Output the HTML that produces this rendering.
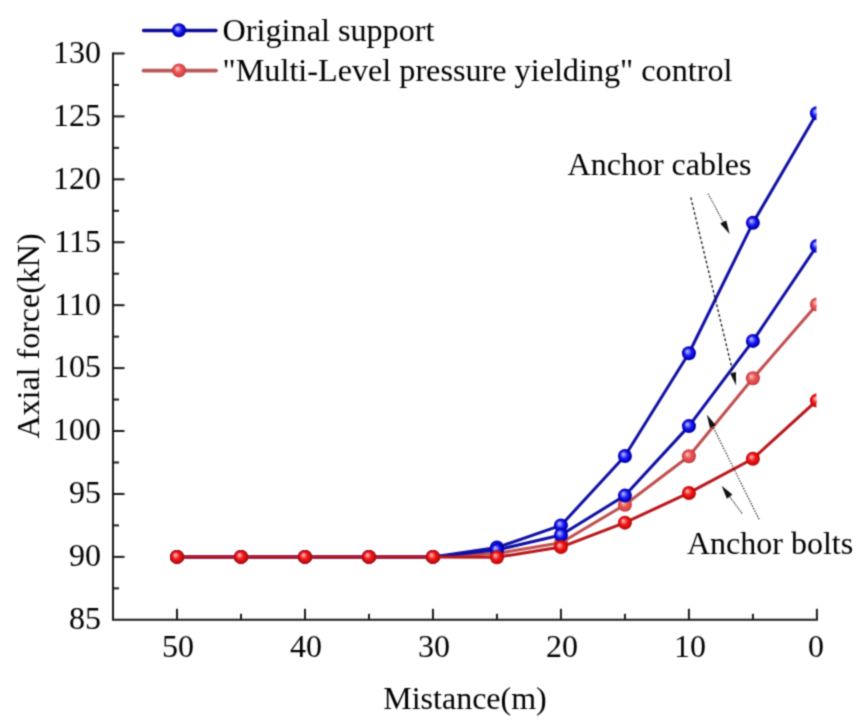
<!DOCTYPE html>
<html><head><meta charset="utf-8"><style>
html,body{margin:0;padding:0;background:#fff;}
svg{display:block;}
text{font-family:"Liberation Serif",serif;font-size:32px;fill:#000;}
</style></head><body>
<svg width="864" height="726" viewBox="0 0 864 726">
<defs>
<filter id="soft" x="0" y="0" width="864" height="726" filterUnits="userSpaceOnUse" color-interpolation-filters="sRGB"><feConvolveMatrix order="3" kernelMatrix="1 3 1 3 9 3 1 3 1" divisor="25" edgeMode="duplicate"/></filter>
<radialGradient id="gb" cx="0.5" cy="0.5" r="0.5" fx="0.36" fy="0.34">
<stop offset="0" stop-color="#c4c4ff"/><stop offset="0.22" stop-color="#8888ff"/><stop offset="0.5" stop-color="#2222f4"/><stop offset="0.82" stop-color="#0000cc"/><stop offset="1" stop-color="#00008c"/></radialGradient>
<radialGradient id="gr1" cx="0.5" cy="0.5" r="0.5" fx="0.36" fy="0.34">
<stop offset="0" stop-color="#ffd4d4"/><stop offset="0.22" stop-color="#f49a9a"/><stop offset="0.5" stop-color="#e85858"/><stop offset="0.82" stop-color="#dc4444"/><stop offset="1" stop-color="#b03838"/></radialGradient>
<radialGradient id="gr2" cx="0.5" cy="0.5" r="0.5" fx="0.36" fy="0.34">
<stop offset="0" stop-color="#ffc4c4"/><stop offset="0.22" stop-color="#f88080"/><stop offset="0.5" stop-color="#ec1c1c"/><stop offset="0.82" stop-color="#dc0606"/><stop offset="1" stop-color="#a00c0c"/></radialGradient>
<clipPath id="plot"><rect x="113" y="0" width="703.4" height="620"/></clipPath>
</defs>
<g filter="url(#soft)">
<rect width="864" height="726" fill="#fff"/>

<g stroke="#1a1a1a" stroke-width="2" fill="none">
<path d="M113 52.5 V620.8 M112 619.8 H817.9"/>
<path d="M113 588.34 H119"/>
<path d="M113 556.88 H124.5"/>
<path d="M113 525.41 H119"/>
<path d="M113 493.95 H124.5"/>
<path d="M113 462.49 H119"/>
<path d="M113 431.02 H124.5"/>
<path d="M113 399.56 H119"/>
<path d="M113 368.10 H124.5"/>
<path d="M113 336.64 H119"/>
<path d="M113 305.17 H124.5"/>
<path d="M113 273.71 H119"/>
<path d="M113 242.25 H124.5"/>
<path d="M113 210.79 H119"/>
<path d="M113 179.32 H124.5"/>
<path d="M113 147.86 H119"/>
<path d="M113 116.40 H124.5"/>
<path d="M113 84.94 H119"/>
<path d="M113 53.47 H124.5"/>
<path d="M816.90 619.8 V608.8"/>
<path d="M752.91 619.8 V613.8"/>
<path d="M688.92 619.8 V608.8"/>
<path d="M624.93 619.8 V613.8"/>
<path d="M560.94 619.8 V608.8"/>
<path d="M496.95 619.8 V613.8"/>
<path d="M432.96 619.8 V608.8"/>
<path d="M368.97 619.8 V613.8"/>
<path d="M304.98 619.8 V608.8"/>
<path d="M240.99 619.8 V613.8"/>
<path d="M177.00 619.8 V608.8"/>
</g>
<text x="101" y="629.1" text-anchor="end">85</text>
<text x="101" y="566.2" text-anchor="end">90</text>
<text x="101" y="503.2" text-anchor="end">95</text>
<text x="101" y="440.3" text-anchor="end">100</text>
<text x="101" y="377.4" text-anchor="end">105</text>
<text x="101" y="314.5" text-anchor="end">110</text>
<text x="101" y="251.5" text-anchor="end">115</text>
<text x="101" y="188.6" text-anchor="end">120</text>
<text x="101" y="125.7" text-anchor="end">125</text>
<text x="101" y="62.8" text-anchor="end">130</text>
<text x="815.9" y="657" text-anchor="middle">0</text>
<text x="689.9" y="657" text-anchor="middle">10</text>
<text x="561.9" y="657" text-anchor="middle">20</text>
<text x="434.0" y="657" text-anchor="middle">30</text>
<text x="306.0" y="657" text-anchor="middle">40</text>
<text x="178.0" y="657" text-anchor="middle">50</text>
<text x="465" y="709" text-anchor="middle">Mistance(m)</text>
<text transform="translate(39.2 336) rotate(-90)" text-anchor="middle">Axial force(kN)</text>
<g clip-path="url(#plot)">
<polyline points="177.00,556.88 240.99,556.88 304.98,556.88 368.97,556.88 432.96,556.88 496.95,547.56 560.94,525.41 624.93,456.07 688.92,353.25 752.91,222.87 816.90,113.25" fill="none" stroke="#1010a4" stroke-width="3.0" stroke-linejoin="round"/>
<circle cx="177.00" cy="556.88" r="7" fill="url(#gb)"/>
<circle cx="240.99" cy="556.88" r="7" fill="url(#gb)"/>
<circle cx="304.98" cy="556.88" r="7" fill="url(#gb)"/>
<circle cx="368.97" cy="556.88" r="7" fill="url(#gb)"/>
<circle cx="432.96" cy="556.88" r="7" fill="url(#gb)"/>
<circle cx="496.95" cy="547.56" r="7" fill="url(#gb)"/>
<circle cx="560.94" cy="525.41" r="7" fill="url(#gb)"/>
<circle cx="624.93" cy="456.07" r="7" fill="url(#gb)"/>
<circle cx="688.92" cy="353.25" r="7" fill="url(#gb)"/>
<circle cx="752.91" cy="222.87" r="7" fill="url(#gb)"/>
<circle cx="816.90" cy="113.25" r="7" fill="url(#gb)"/>
<polyline points="177.00,556.88 240.99,556.88 304.98,556.88 368.97,556.88 432.96,556.88 496.95,553.48 560.94,542.78 624.93,504.77 688.92,456.19 752.91,378.29 816.90,304.55" fill="none" stroke="#c05050" stroke-width="3.0" stroke-linejoin="round"/>
<circle cx="177.00" cy="556.88" r="7" fill="url(#gr1)"/>
<circle cx="240.99" cy="556.88" r="7" fill="url(#gr1)"/>
<circle cx="304.98" cy="556.88" r="7" fill="url(#gr1)"/>
<circle cx="368.97" cy="556.88" r="7" fill="url(#gr1)"/>
<circle cx="432.96" cy="556.88" r="7" fill="url(#gr1)"/>
<circle cx="496.95" cy="553.48" r="7" fill="url(#gr1)"/>
<circle cx="560.94" cy="542.78" r="7" fill="url(#gr1)"/>
<circle cx="624.93" cy="504.77" r="7" fill="url(#gr1)"/>
<circle cx="688.92" cy="456.19" r="7" fill="url(#gr1)"/>
<circle cx="752.91" cy="378.29" r="7" fill="url(#gr1)"/>
<circle cx="816.90" cy="304.55" r="7" fill="url(#gr1)"/>
<polyline points="177.00,556.88 240.99,556.88 304.98,556.88 368.97,556.88 432.96,556.88 496.95,549.95 560.94,534.98 624.93,495.59 688.92,426.12 752.91,340.92 816.90,245.90" fill="none" stroke="#1010a4" stroke-width="3.0" stroke-linejoin="round"/>
<circle cx="177.00" cy="556.88" r="7" fill="url(#gb)"/>
<circle cx="240.99" cy="556.88" r="7" fill="url(#gb)"/>
<circle cx="304.98" cy="556.88" r="7" fill="url(#gb)"/>
<circle cx="368.97" cy="556.88" r="7" fill="url(#gb)"/>
<circle cx="432.96" cy="556.88" r="7" fill="url(#gb)"/>
<circle cx="496.95" cy="549.95" r="7" fill="url(#gb)"/>
<circle cx="560.94" cy="534.98" r="7" fill="url(#gb)"/>
<circle cx="624.93" cy="495.59" r="7" fill="url(#gb)"/>
<circle cx="688.92" cy="426.12" r="7" fill="url(#gb)"/>
<circle cx="752.91" cy="340.92" r="7" fill="url(#gb)"/>
<circle cx="816.90" cy="245.90" r="7" fill="url(#gb)"/>
<polyline points="177.00,556.88 240.99,556.88 304.98,556.88 368.97,556.88 432.96,556.88 496.95,557.25 560.94,547.06 624.93,522.64 688.92,492.94 752.91,458.71 816.90,400.44" fill="none" stroke="#b8181c" stroke-width="3.0" stroke-linejoin="round"/>
<circle cx="177.00" cy="556.88" r="7" fill="url(#gr2)"/>
<circle cx="240.99" cy="556.88" r="7" fill="url(#gr2)"/>
<circle cx="304.98" cy="556.88" r="7" fill="url(#gr2)"/>
<circle cx="368.97" cy="556.88" r="7" fill="url(#gr2)"/>
<circle cx="432.96" cy="556.88" r="7" fill="url(#gr2)"/>
<circle cx="496.95" cy="557.25" r="7" fill="url(#gr2)"/>
<circle cx="560.94" cy="547.06" r="7" fill="url(#gr2)"/>
<circle cx="624.93" cy="522.64" r="7" fill="url(#gr2)"/>
<circle cx="688.92" cy="492.94" r="7" fill="url(#gr2)"/>
<circle cx="752.91" cy="458.71" r="7" fill="url(#gr2)"/>
<circle cx="816.90" cy="400.44" r="7" fill="url(#gr2)"/>
</g>
<line x1="143.5" y1="30.5" x2="216" y2="30.5" stroke="#0c0c98" stroke-width="3.3" stroke-linecap="round"/>
<circle cx="179" cy="30.3" r="7" fill="url(#gb)"/>
<line x1="143.5" y1="70.6" x2="216" y2="70.6" stroke="#b85858" stroke-width="3.8" stroke-linecap="round"/>
<circle cx="179" cy="70.4" r="7" fill="url(#gr1)"/>
<text x="222.6" y="41.3" style="font-size:32.2px">Original support</text>
<text x="222.6" y="80.6" style="font-size:32.2px">"Multi-Level pressure yielding" control</text>
<text x="567.6" y="174.6">Anchor cables</text>
<text x="687" y="553.8">Anchor bolts</text>
<line x1="708.2" y1="193.8" x2="723.24" y2="221.99" stroke="#111" stroke-width="1.1" stroke-dasharray="1.2 1.2"/><path d="M729.6 233.9 L720.24 223.59 L726.24 220.39Z" fill="#111"/>
<line x1="690.8" y1="197.5" x2="733.05" y2="372.76" stroke="#111" stroke-width="1.3" stroke-dasharray="2.8 2.2"/><path d="M736.1 385.4 L730.14 373.47 L735.97 372.06Z" fill="#111"/>
<line x1="759" y1="519.2" x2="712.82" y2="426.58" stroke="#111" stroke-width="1.2" stroke-dasharray="1.3 1.5"/><path d="M706.8 414.5 L715.73 425.13 L709.91 428.03Z" fill="#111"/>
<line x1="742" y1="513.3" x2="729.64" y2="496.64" stroke="#111" stroke-width="1.1" stroke-dasharray="1.2 1.2"/><path d="M721.6 485.8 L732.37 494.62 L726.91 498.67Z" fill="#111"/>
</g></svg></body></html>
